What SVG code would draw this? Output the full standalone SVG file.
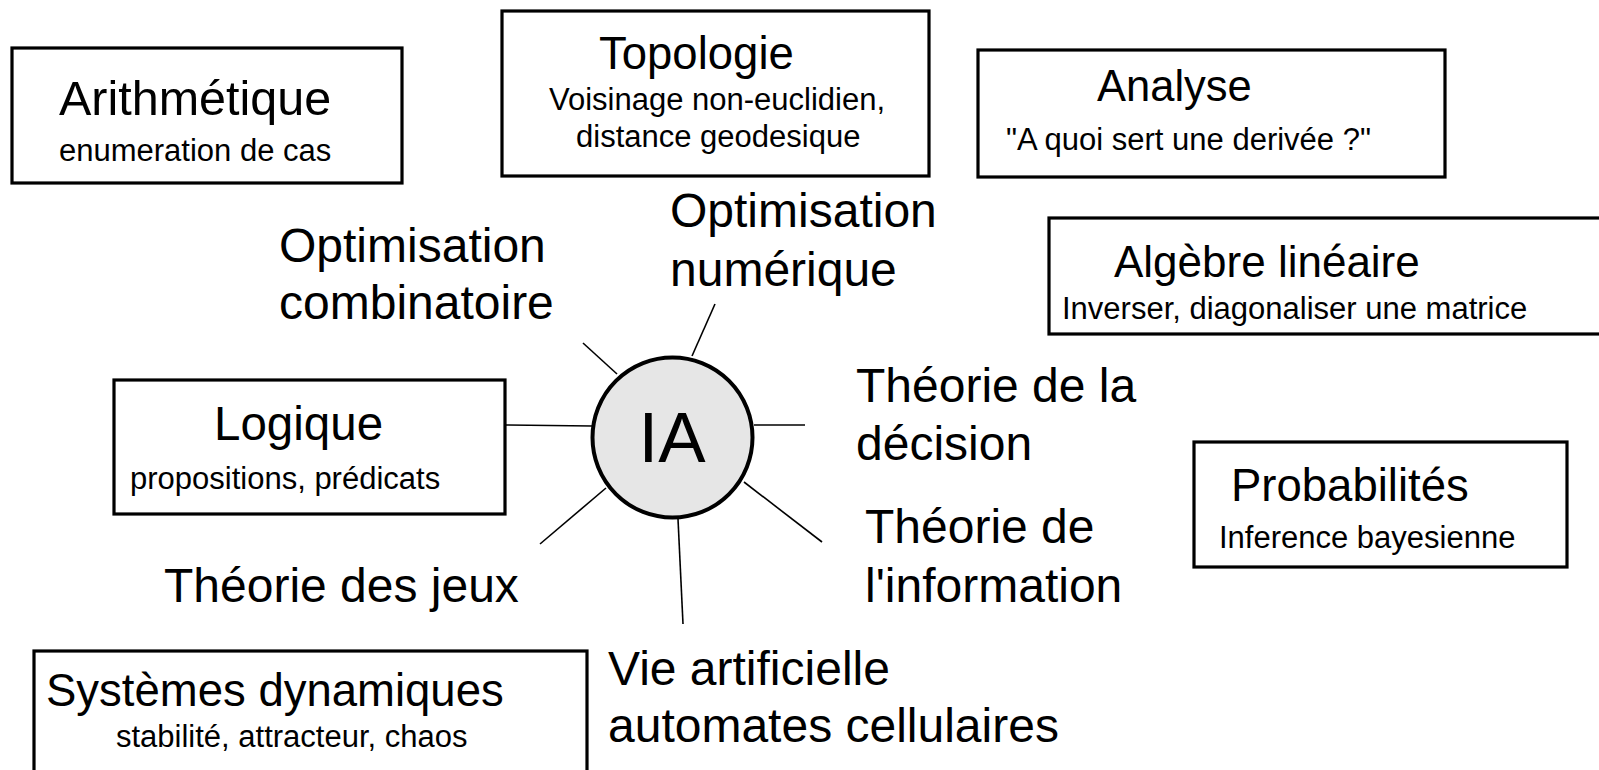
<svg xmlns="http://www.w3.org/2000/svg" width="1599" height="770" viewBox="0 0 1599 770">
  <style>
    .box { fill: #ffffff; stroke: #000000; stroke-width: 3.2; }
    .hub { fill: #e6e6e6; stroke: #000000; stroke-width: 4; }
    .spoke { stroke: #000000; stroke-width: 1.6; fill: none; }
    text { font-family: "Liberation Sans", Arial, sans-serif; fill: #000000; }
    .sub { font-size: 31px; }
    .title { font-size: 45.5px; }
    .free { font-size: 48px; }
  </style>
  <rect width="1599" height="770" fill="#ffffff"/>

  <!-- spokes radiating from the central hub -->
  <g id="connectors">
    <line class="spoke" x1="583" y1="343" x2="617" y2="374"/>
    <line class="spoke" x1="715" y1="304" x2="692" y2="356"/>
    <line class="spoke" x1="505" y1="425" x2="592" y2="426"/>
    <line class="spoke" x1="754" y1="425" x2="805" y2="425"/>
    <line class="spoke" x1="606" y1="488" x2="540" y2="544"/>
    <line class="spoke" x1="678" y1="519" x2="683" y2="624"/>
    <line class="spoke" x1="744" y1="482" x2="822" y2="542"/>
  </g>

  <g id="hub-ia">
    <circle class="hub" cx="672.5" cy="437.5" r="80"/>
    <text x="672" y="462" font-size="71" text-anchor="middle">IA</text>
  </g>

  <g id="node-arithmetique">
    <rect class="box" x="12" y="48" width="390" height="135"/>
    <text x="59" y="115" font-size="48.5">Arithmétique</text>
    <text class="sub" x="59" y="161">enumeration de cas</text>
  </g>

  <g id="node-topologie">
    <rect class="box" x="502" y="11" width="427" height="165"/>
    <text x="599" y="69" font-size="45.5">Topologie</text>
    <text class="sub" x="549" y="110">Voisinage non-euclidien,</text>
    <text class="sub" x="576" y="147">distance geodesique</text>
  </g>

  <g id="node-analyse">
    <rect class="box" x="978" y="50" width="467" height="127"/>
    <text x="1097" y="101" font-size="43.5">Analyse</text>
    <text class="sub" x="1006" y="150">"A quoi sert une derivée ?"</text>
  </g>

  <g id="node-algebre">
    <rect class="box" x="1049" y="218" width="570" height="116"/>
    <text x="1114" y="277" font-size="44">Algèbre linéaire</text>
    <text class="sub" x="1062" y="319">Inverser, diagonaliser une matrice</text>
  </g>

  <g id="node-logique">
    <rect class="box" x="114" y="380" width="391" height="134"/>
    <text x="214" y="440" font-size="47.5">Logique</text>
    <text class="sub" x="130" y="489">propositions, prédicats</text>
  </g>

  <g id="node-probabilites">
    <rect class="box" x="1194" y="442" width="373" height="125"/>
    <text x="1231" y="501" class="title">Probabilités</text>
    <text class="sub" x="1219" y="548">Inference bayesienne</text>
  </g>

  <g id="node-systemes">
    <rect class="box" x="34" y="651" width="553" height="130"/>
    <text x="46" y="706" class="title">Systèmes dynamiques</text>
    <text class="sub" x="116" y="747">stabilité, attracteur, chaos</text>
  </g>

  <g id="label-optim-combinatoire">
    <text class="free" x="279" y="262">Optimisation</text>
    <text class="free" x="279" y="319">combinatoire</text>
  </g>

  <g id="label-optim-numerique">
    <text class="free" x="670" y="227">Optimisation</text>
    <text class="free" x="670" y="286">numérique</text>
  </g>

  <g id="label-decision">
    <text class="free" x="856" y="402">Théorie de la</text>
    <text class="free" x="856" y="460">décision</text>
  </g>

  <g id="label-information">
    <text class="free" x="865" y="543">Théorie de</text>
    <text class="free" x="865" y="602">l'information</text>
  </g>

  <g id="label-jeux">
    <text class="free" x="164" y="602">Théorie des jeux</text>
  </g>

  <g id="label-vie-artificielle">
    <text class="free" x="608" y="685">Vie artificielle</text>
    <text class="free" x="608" y="742">automates cellulaires</text>
  </g>
</svg>
